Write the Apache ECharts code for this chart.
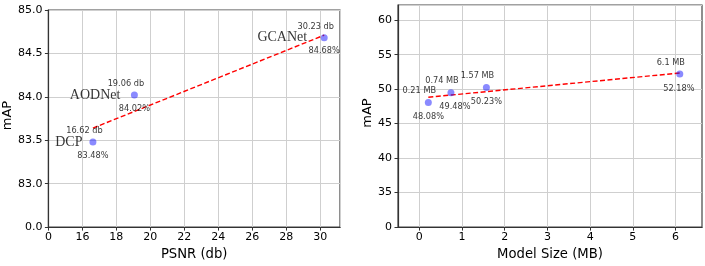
<!DOCTYPE html>
<html><head><meta charset="utf-8">
<script src="https://cdn.jsdelivr.net/npm/echarts@6/dist/echarts.min.js"></script>
<style>html,body{margin:0;padding:0;background:#fff}#c{width:705px;height:266px}</style>
</head><body><div id="c"></div>
<script>
// ---- data: left chart (PSNR vs mAP) ----
const psnrMethods = ['DCP', 'AODNet', 'GCANet'];
const psnrValues = [16.62, 19.06, 30.23];
const psnrMap = [83.48, 84.02, 84.68];
const psnrTrendX = [16.62, 30.23];
const psnrTrendY = [83.64, 84.71];
const psnrXTicks = [14, 16, 18, 20, 22, 24, 26, 28, 30];
const psnrXTickLabels = ['0', '16', '18', '20', '22', '24', '26', '28', '30'];
const psnrYTicks = [82.5, 83.0, 83.5, 84.0, 84.5, 85.0];
const psnrYTickLabels = ['0.0', '83.0', '83.5', '84.0', '84.5', '85.0'];

// ---- data: right chart (Model size vs mAP) ----
const sizeValues = [0.21, 0.74, 1.57, 6.1];
const sizeMap = [48.08, 49.48, 50.23, 52.18];
const sizeTrendX = [0.21, 6.1];
const sizeTrendY = [48.83, 52.34];
const sizeXTicks = [0, 1, 2, 3, 4, 5, 6];
const sizeYTicks = [30, 35, 40, 45, 50, 55, 60];
const sizeYTickLabels = ['0', '35', '40', '45', '50', '55', '60'];

// ---- layout (not data) ----
const nameOffsets = [[-10.5, 0.5], [-14, 0.5], [-17, 0]];
const pctOffsetsRight = [[0, 14.3], [4, 14.3], [0, 14.3], [-1, 14.5]];

const SANS = 'DejaVu Sans';
const SERIF = 'Liberation Serif';
const annFont = 8.2;
const pointColor = 'rgba(30,30,255,0.65)';

function lookup(ticks, labels, v) {
  for (let i = 0; i < ticks.length; i++) if (Math.abs(ticks[i] - v) < 1e-6) return labels[i];
  return '';
}

const zip = (a, b) => a.map((v, i) => [v, b[i]]);

const axisCommon = {
  axisLine: { show: true, onZero: false, lineStyle: { color: '#333', width: 1.2 } },
  axisTick: { show: true, inside: false, length: 3.5, lineStyle: { color: '#333', width: 1 } },
  splitLine: { show: true, lineStyle: { color: '#cfcfcf', width: 1 } }
};
const labelCommon = { fontFamily: SANS, fontSize: 11, color: '#000' };
const xNameStyle = { fontFamily: SANS, fontSize: 13.2, color: '#000' };
const yNameStyle = { fontFamily: SANS, fontSize: 13, color: '#000', padding: [0, 0, 0, 6] };

function annSeries(xi, yi, data, formatter, offsetFn) {
  return {
    type: 'scatter', xAxisIndex: xi, yAxisIndex: yi, symbolSize: 0, silent: true, z: 5,
    data: data.map((d, i) => ({ value: d, label: { offset: offsetFn(i) } })),
    label: {
      show: true, position: 'inside', formatter: formatter,
      fontFamily: SANS, fontSize: annFont, color: '#000', align: 'center', verticalAlign: 'middle'
    }
  };
}

const leftPts = zip(psnrValues, psnrMap);
const rightPts = zip(sizeValues, sizeMap);

const option = {
  animation: false,
  backgroundColor: '#fff',
  grid: [
    { left: 48, top: 10, width: 292, height: 218, show: true, borderColor: '#444', borderWidth: 1.2 },
    { left: 398, top: 5, width: 304, height: 226.5, show: true, borderColor: '#444', borderWidth: 1.2 }
  ],
  xAxis: [
    Object.assign({}, axisCommon, {
      type: 'value', gridIndex: 0, min: 14, max: 31.16, interval: 2,
      name: 'PSNR (db)', nameLocation: 'middle', nameGap: 18, nameTextStyle: xNameStyle,
      axisLabel: Object.assign({}, labelCommon, { margin: 5, showMaxLabel: false,
        formatter: v => lookup(psnrXTicks, psnrXTickLabels, v) })
    }),
    Object.assign({}, axisCommon, {
      type: 'value', gridIndex: 1, min: -0.5, max: 6.62,
      name: 'Model Size (MB)', nameLocation: 'middle', nameGap: 18, nameTextStyle: xNameStyle,
      axisTick: Object.assign({}, axisCommon.axisTick, { customValues: sizeXTicks }),
      axisLabel: Object.assign({}, labelCommon, { margin: 5, customValues: sizeXTicks,
        formatter: v => String(v) })
    })
  ],
  yAxis: [
    Object.assign({}, axisCommon, {
      type: 'value', gridIndex: 0, min: 82.5, max: 85, interval: 0.5,
      name: 'mAP', nameLocation: 'middle', nameGap: 26, nameTextStyle: yNameStyle,
      axisLabel: Object.assign({}, labelCommon, { margin: 6,
        formatter: v => lookup(psnrYTicks, psnrYTickLabels, v) })
    }),
    Object.assign({}, axisCommon, {
      type: 'value', gridIndex: 1, min: 30, max: 62.2, interval: 5,
      name: 'mAP', nameLocation: 'middle', nameGap: 18, nameTextStyle: yNameStyle,
      axisLabel: Object.assign({}, labelCommon, { margin: 6, showMaxLabel: false,
        formatter: v => lookup(sizeYTicks, sizeYTickLabels, v) })
    })
  ],
  series: [
    { type: 'line', xAxisIndex: 0, yAxisIndex: 0, data: zip(psnrTrendX, psnrTrendY), symbol: 'none',
      lineStyle: { color: '#ff0000', width: 1.4, type: [5, 2.5] }, z: 2, silent: true },
    { type: 'scatter', xAxisIndex: 0, yAxisIndex: 0, data: leftPts, symbolSize: 7,
      itemStyle: { color: pointColor }, z: 3 },
    annSeries(0, 0, leftPts, p => p.value[0].toFixed(2) + ' db', () => [-8.5, -11]),
    annSeries(0, 0, leftPts, p => p.value[1].toFixed(2) + '%', () => [0, 13.5]),
    {
      type: 'scatter', xAxisIndex: 0, yAxisIndex: 0, symbolSize: 0, silent: true, z: 5,
      data: leftPts.map((d, i) => ({ value: d, name: psnrMethods[i], label: { offset: nameOffsets[i] } })),
      label: { show: true, position: 'inside', formatter: p => p.name, fontFamily: SERIF, fontSize: 14,
        color: '#000', align: 'right', verticalAlign: 'middle' }
    },

    { type: 'line', xAxisIndex: 1, yAxisIndex: 1, data: zip(sizeTrendX, sizeTrendY), symbol: 'none',
      lineStyle: { color: '#ff0000', width: 1.4, type: [5, 2.5] }, z: 2, silent: true },
    { type: 'scatter', xAxisIndex: 1, yAxisIndex: 1, data: rightPts, symbolSize: 7,
      itemStyle: { color: pointColor }, z: 3 },
    annSeries(1, 1, rightPts, p => String(p.value[0]) + ' MB', () => [-9, -11.5]),
    annSeries(1, 1, rightPts, p => p.value[1].toFixed(2) + '%', i => pctOffsetsRight[i])
  ]
};

const chart = echarts.init(document.getElementById('c'), null, { renderer: 'canvas' });
chart.setOption(option);
</script>
</body></html>
